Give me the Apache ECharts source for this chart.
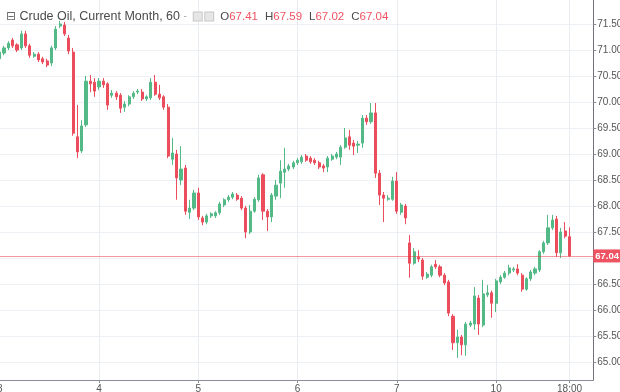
<!DOCTYPE html>
<html><head><meta charset="utf-8">
<script src="https://cdn.jsdelivr.net/npm/echarts@6/dist/echarts.min.js"></script>
<style>html,body{margin:0;padding:0;background:#fff}#c{width:620px;height:392px}</style>
</head><body><div id="c"></div><script>
// ---- data (hourly candles) ----
const opens = [70.83,70.94,71.04,71.19,71.10,71.04,71.31,71.08,70.88,70.92,
70.83,70.79,70.75,71.04,71.46,71.48,71.23,70.96,69.33,69.06,
69.56,70.40,70.38,70.29,70.40,70.35,70.13,70.17,70.13,69.90,
69.96,70.10,70.19,70.19,70.06,70.08,70.38,70.15,70.10,69.90,
68.90,69.00,68.50,68.73,67.88,67.96,68.25,67.77,67.69,67.81,
67.81,67.87,68.02,68.12,68.17,68.21,68.15,67.96,67.50,67.90,
68.12,68.60,67.90,67.79,68.19,68.44,68.65,68.71,68.75,68.83,
68.85,68.96,68.92,68.88,68.83,68.77,68.75,68.90,68.94,68.94,
69.13,69.33,69.21,69.17,69.21,69.69,69.62,69.79,68.63,68.21,
68.13,68.13,68.48,67.88,68.00,67.29,66.90,67.02,66.96,66.63,
66.67,66.88,66.83,66.67,66.54,65.88,65.37,65.48,65.33,65.71,
65.73,66.23,65.71,66.29,66.33,66.13,66.54,66.63,66.71,66.77,
66.79,66.67,66.40,66.60,66.71,66.77,67.12,67.29,67.58,67.75,
67.10,67.52,67.41];
const closes = [70.96,71.04,71.13,71.08,71.00,71.31,71.08,70.90,70.92,70.81,
70.77,70.71,71.04,71.40,71.50,71.31,70.98,69.40,69.04,69.54,
70.40,70.35,70.21,70.40,70.33,69.94,70.17,70.10,69.88,69.96,
70.10,70.17,70.21,70.06,70.10,70.38,70.15,70.08,69.90,68.96,
69.02,68.54,68.71,67.90,67.96,68.25,67.79,67.69,67.81,67.85,
67.87,68.04,68.12,68.17,68.23,68.13,67.96,67.50,67.90,68.13,
68.54,67.90,67.79,68.21,68.40,68.67,68.71,68.77,68.83,68.88,
68.94,68.88,68.85,68.83,68.75,68.73,68.92,68.96,69.00,69.13,
69.31,69.17,69.15,69.19,69.69,69.62,69.79,68.63,68.21,68.15,
68.15,68.48,67.90,68.02,67.77,66.90,67.12,66.98,66.65,66.69,
66.83,66.83,66.67,66.52,65.94,65.37,65.48,65.33,65.73,65.75,
66.27,65.73,66.31,66.33,66.13,66.56,66.63,66.71,66.81,66.79,
66.71,66.40,66.60,66.73,66.79,67.12,67.29,67.58,67.73,67.10,
67.50,67.42,67.04];
const lows = [70.77,70.90,71.00,71.04,70.96,71.00,71.04,70.85,70.85,70.77,
70.73,70.67,70.69,71.00,71.42,71.27,70.92,69.35,68.92,69.02,
69.52,70.19,70.10,70.23,70.27,69.85,70.08,70.04,69.79,69.81,
69.92,70.06,70.15,70.02,70.02,70.04,70.12,70.04,69.85,68.92,
68.79,68.12,68.40,67.83,67.75,67.92,67.73,67.63,67.65,67.77,
67.77,67.83,67.98,68.08,68.13,68.10,67.92,67.38,67.46,67.87,
68.08,67.73,67.52,67.69,68.12,68.15,68.35,68.67,68.71,68.79,
68.81,68.85,68.81,68.79,68.71,68.65,68.65,68.87,68.90,68.79,
69.10,69.08,68.98,69.02,69.12,69.56,69.58,68.54,68.02,67.69,
68.10,68.10,67.85,67.83,67.65,66.62,66.87,66.92,66.58,66.60,
66.63,66.79,66.63,66.48,65.88,65.23,65.08,65.13,65.12,65.67,
65.62,65.52,65.67,66.25,65.85,65.96,66.50,66.60,66.67,66.73,
66.67,66.35,66.37,66.56,66.67,66.73,67.08,67.25,67.54,67.02,
67.00,67.38,67.02];
const highs = [71.00,71.08,71.17,71.23,71.13,71.37,71.37,71.12,70.96,70.96,
70.87,70.83,71.08,71.46,71.56,71.54,71.29,71.04,69.94,69.65,
70.50,70.52,70.46,70.46,70.46,70.38,70.23,70.21,70.17,70.02,
70.13,70.21,70.25,70.25,70.13,70.46,70.52,70.33,70.13,69.96,
69.31,69.08,69.15,68.79,68.12,68.31,68.35,67.81,67.85,67.88,
67.90,68.08,68.15,68.21,68.27,68.25,68.19,68.00,68.02,68.17,
68.60,68.63,67.94,68.25,68.50,68.88,69.12,68.81,68.87,68.92,
68.98,69.00,68.96,68.92,68.87,68.81,68.96,69.00,69.04,69.17,
69.50,69.46,69.27,69.25,69.75,69.75,69.98,69.98,68.69,68.27,
68.21,68.56,68.65,68.06,68.04,67.44,67.19,67.15,67.00,66.73,
66.87,66.96,66.87,66.71,66.58,65.92,65.62,65.52,65.77,65.79,
66.44,66.29,66.58,66.48,66.37,66.60,66.67,66.75,66.87,66.83,
66.88,66.71,66.63,66.77,66.83,67.15,67.33,67.83,67.83,67.81,
67.58,67.69,67.59];
const dayLabelIndex = [0, 23, 46, 69, 92, 115, 132];
const dayLabels = ['3', '4', '5', '6', '7', '10', '18:00'];
const slotCount = 138;          // hourly slots on the x axis (incl. empty right margin)
const yMin = 65, yMax = 72, yStep = 0.5;
const titleText = 'Crude Oil, Current Month, 60';
const ohlcKeys = ['O', 'H', 'L', 'C'];
const ohlcValues = [67.41, 67.59, 67.02, 67.04];
const lastPrice = 67.04;

// ---- chart ----
const band = 4.317;
const gLeft = -0.3 - band / 2;
const gRight = 620 - (gLeft + slotCount * band);
const cats = Array.from({length: slotCount}, (_, i) => 'h' + i);
const labelMap = {};
dayLabelIndex.forEach((k, j) => { labelMap[k] = dayLabels[j]; });
const isDay = (i) => labelMap[i] !== undefined;
const data = opens.map((o, i) => [o, closes[i], lows[i], highs[i]]);

const UP = '#53b987', DOWN = '#eb4d5c', RED = '#ef5261';
const legendParts = ohlcKeys.map((k, i) => '{k|' + k + '}{v|' + ohlcValues[i].toFixed(2) + '}').join('');

const chart = echarts.init(document.getElementById('c'), null, {renderer: 'canvas'});
chart.setOption({
  animation: false,
  backgroundColor: '#fff',
  title: {
    left: 1, top: 5,
    text: '{ic|⊟} ' + titleText + ' {dd|-}  {bx| } {bx| }' + legendParts,
    textStyle: {
      fontFamily: 'Liberation Sans', fontSize: 12.5, fontWeight: 'normal', color: '#4a4a4a',
      rich: {
        ic: {fontSize: 12, color: '#6a6a6a', fontFamily: 'DejaVu Sans'},
        dd: {fontSize: 10, color: '#aaa'},
        bx: {width: 8, height: 8, borderColor: '#c8c8c8', borderWidth: 1, backgroundColor: '#e6e6e6', fontSize: 6},
        k: {fontSize: 11.5, color: '#4a4a4a', fontFamily: 'Liberation Sans', padding: [0, 0, 0, 7]},
        v: {fontSize: 11.5, color: RED, fontFamily: 'Liberation Sans'}
      }
    }
  },
  grid: [
    {left: gLeft, right: gRight, top: -2, bottom: 30, outerBoundsMode: 'none', containLabel: false},
    {left: gLeft, right: gRight, top: 0, bottom: 12, outerBoundsMode: 'none', containLabel: false}
  ],
  xAxis: [
    {gridIndex: 0, type: 'category', data: cats, show: false},
    {gridIndex: 1, type: 'category', data: cats,
     axisLine: {lineStyle: {color: '#8a8d94'}},
     axisTick: {show: true, alignWithLabel: true, length: 3, interval: (i) => isDay(i), lineStyle: {color: '#8a8d94'}},
     axisLabel: {interval: (i) => isDay(i), formatter: (v, i) => labelMap[i] || '', fontSize: 10, color: '#555', margin: 4, fontFamily: 'Liberation Sans'},
     splitLine: {show: true, alignWithLabel: true, interval: (i) => isDay(i), lineStyle: {color: '#e9edf1'}}}
  ],
  yAxis: [
    {gridIndex: 0, type: 'value', position: 'right', min: yMin, max: yMax, interval: yStep,
     axisLine: {show: false},
     axisTick: {show: true, length: 3, lineStyle: {color: '#8a8d94'}},
     axisLabel: {showMaxLabel: false, formatter: (v) => v.toFixed(2), fontSize: 10, color: '#555', margin: 4, fontFamily: 'Liberation Sans'},
     splitLine: {show: true, showMaxLine: false, lineStyle: {color: '#edf0f4'}}},
    {gridIndex: 1, type: 'value', position: 'right', min: 0, max: 1,
     axisLine: {show: true, lineStyle: {color: '#6f7279'}},
     axisTick: {show: false}, axisLabel: {show: false}, splitLine: {show: false}}
  ],
  series: [{
    type: 'candlestick', xAxisIndex: 0, yAxisIndex: 0, data: data,
    barWidth: 2.6,
    itemStyle: {color: UP, color0: DOWN, borderColor: UP, borderColor0: DOWN, borderWidth: 1},
    markLine: {
      silent: true, symbol: ['none', 'none'], animation: false, precision: 2,
      data: [{yAxis: lastPrice}],
      lineStyle: {color: '#e8303f', type: [1, 1], width: 1, opacity: 1},
      label: {show: true, position: 'end', distance: 0, formatter: lastPrice.toFixed(2),
              color: '#fff', backgroundColor: RED, padding: [2, 1, 1, 2], fontSize: 9.5,
              fontWeight: 'bold', fontFamily: 'Liberation Sans'}
    }
  }]
});
</script></body></html>
